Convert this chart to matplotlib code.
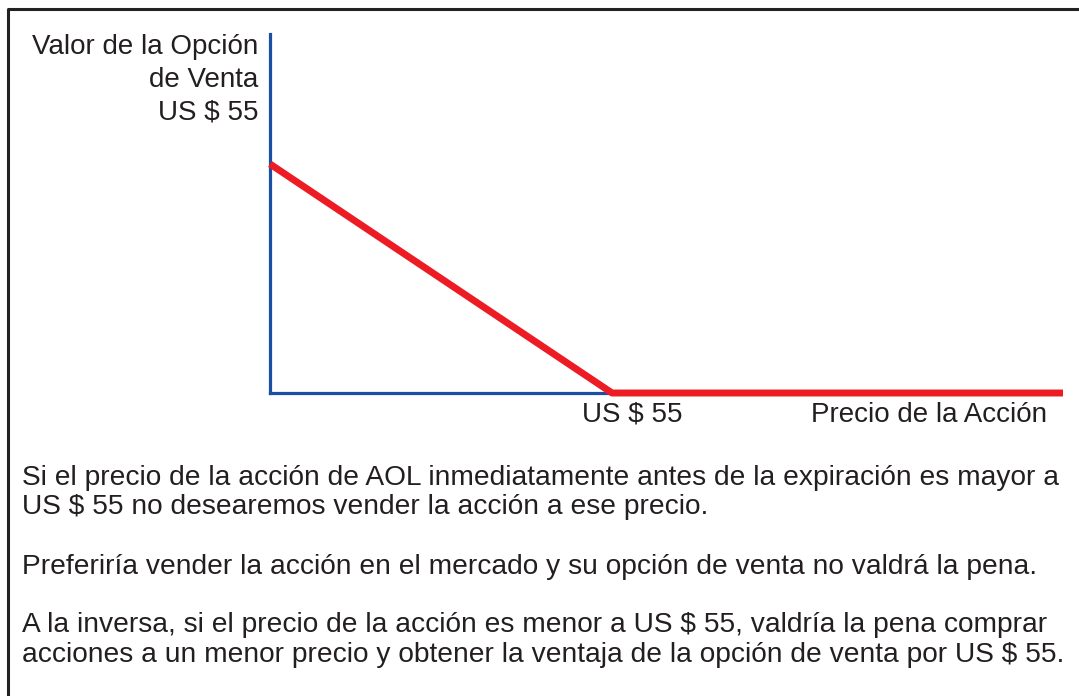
import matplotlib
matplotlib.use("Agg")
import matplotlib.pyplot as plt
import numpy as np

plt.rcParams['font.family'] = ['Liberation Sans', 'DejaVu Sans']

# precio de la acción y valor de la opción de venta al vencimiento
strike = 55
price = [0, 55, 127.5]
put_value = [max(strike - s, 0) for s in price]

y_label_lines = ["Valor de la Opción", "de Venta", "US $ 55"]
x_tick_label = "US $ 55"
x_label = "Precio de la Acción"
notes = [
    "Si el precio de la acción de AOL inmediatamente antes de la expiración es mayor a",
    "US $ 55 no desearemos vender la acción a ese precio.",
    "",
    "Preferiría vender la acción en el mercado y su opción de venta no valdrá la pena.",
    "",
    "A la inversa, si el precio de la acción es menor a US $ 55, valdría la pena comprar",
    "acciones a un menor precio y obtener la ventaja de la opción de venta por US $ 55.",
]

W, H = 1079, 696
BLUE = "#1b4fa3"
RED = "#ed1c24"
TXT = "#231f20"
fs = 20

fig = plt.figure(figsize=(W / 100, H / 100), dpi=100)

# capa en píxeles para el marco y los textos
bg = fig.add_axes([0, 0, 1, 1])
bg.set_xlim(0, W)
bg.set_ylim(H, 0)
bg.axis("off")
bg.plot([8, 8, W + 5], [H + 5, 9, 9], color="#222222", lw=2.2, solid_capstyle="butt")

for i, t in enumerate(y_label_lines):
    bg.text(258, 47 + 33 * i, t, ha="right", va="center", fontsize=fs, color=TXT)

bg.text(632, 415, x_tick_label, ha="center", va="center", fontsize=fs, color=TXT)
bg.text(1047, 415, x_label, ha="right", va="center", fontsize=fs, color=TXT)

for i, t in enumerate(notes):
    if t:
        bg.text(22, 478 + 29.5 * i, t, ha="left", va="center", fontsize=fs * 1.013, color=TXT)

# gráfico del pago de la opción de venta
x0, x1, y0, y1 = 270, 1063, 393, 34
ax = fig.add_axes([x0 / W, (H - y0) / H, (x1 - x0) / W, (y0 - y1) / H])
ax.set_xlim(0, 127.5)
ax.set_ylim(0, 55 * (y0 - y1) / (y0 - 164))
ax.patch.set_alpha(0)
for s in ["top", "right"]:
    ax.spines[s].set_visible(False)
for s in ["left", "bottom"]:
    ax.spines[s].set_color(BLUE)
    ax.spines[s].set_linewidth(2.3)
ax.spines["bottom"].set_bounds(0, 127)
ax.set_xticks([])
ax.set_yticks([])
ax.plot(price, put_value, color=RED, lw=5, solid_capstyle="butt", clip_on=False, zorder=5)

fig.savefig("out.png", dpi=100)
